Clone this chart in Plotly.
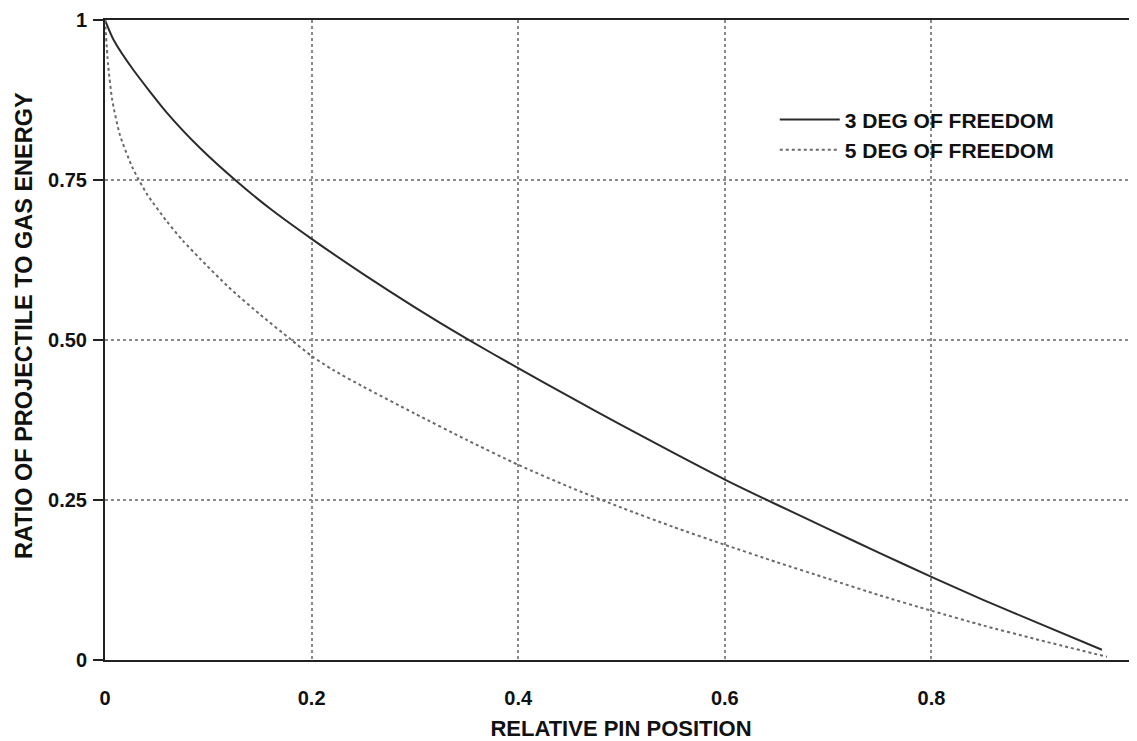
import plotly.graph_objects as go

# ---- data ----
x_3dof = [0, 0.008, 0.027, 0.06, 0.092, 0.126, 0.16, 0.2, 0.25, 0.3, 0.35, 0.4,
          0.45, 0.5, 0.55, 0.6, 0.65, 0.7, 0.75, 0.8, 0.85, 0.9, 0.965]
y_3dof = [1.0, 0.97, 0.923, 0.855, 0.8, 0.75, 0.705, 0.658, 0.603, 0.551, 0.502, 0.456,
          0.411, 0.367, 0.324, 0.282, 0.243, 0.205, 0.167, 0.13, 0.094, 0.06, 0.016]

x_5dof = [0, 0.003, 0.007, 0.0145, 0.027, 0.041, 0.06, 0.0755, 0.092, 0.12, 0.15, 0.179,
          0.2, 0.221, 0.25, 0.3, 0.35, 0.4, 0.45, 0.5, 0.55, 0.6, 0.65, 0.7, 0.75,
          0.8, 0.85, 0.9, 0.97]
y_5dof = [1.0, 0.93, 0.875, 0.82, 0.768, 0.727, 0.685, 0.655, 0.627, 0.582, 0.54, 0.502,
          0.475, 0.453, 0.427, 0.385, 0.344, 0.305, 0.27, 0.238, 0.208, 0.18, 0.153, 0.127, 0.101,
          0.077, 0.054, 0.033, 0.005]

series_names = ["3 DEG OF FREEDOM", "5 DEG OF FREEDOM"]
x_ticks = [0, 0.2, 0.4, 0.6, 0.8, 1]
x_tick_text = ["0", "0.2", "0.4", "0.6", "0.8", "1"]
y_ticks = [0, 0.25, 0.5, 0.75, 1]
y_tick_text = ["0", "0.25", "0.50", "0.75", "1"]
x_title = "RELATIVE PIN POSITION"
y_title = "RATIO OF PROJECTILE TO GAS ENERGY"

FONT = "Liberation Sans, Arial, Helvetica, sans-serif"
INK = "#111"

fig = go.Figure()
fig.add_trace(go.Scatter(x=x_3dof, y=y_3dof, mode="lines", name=series_names[0],
                         line=dict(color="#2b2b2b", width=2, shape="spline", smoothing=0.6)))
fig.add_trace(go.Scatter(x=x_5dof, y=y_5dof, mode="lines", name=series_names[1],
                         line=dict(color="#6a6a6a", width=2, dash="dot", shape="spline", smoothing=0.6)))

# page body adds an 8px offset; figure sized so the plot lands where the reference has it
fig.update_layout(
    width=1129, height=733,
    margin=dict(l=97, r=0, t=12, b=81),
    paper_bgcolor="white", plot_bgcolor="white",
    font=dict(family=FONT, color=INK, size=20),
    showlegend=True,
    legend=dict(x=0.649, y=0.876, xanchor="left", yanchor="top",
                font=dict(size=21, weight="bold", family=FONT, color=INK),
                bgcolor="rgba(0,0,0,0)", tracegroupgap=0, itemwidth=60),
    annotations=[dict(text=y_title, textangle=-90, xref="paper", yref="paper",
                      x=0, y=0.522, xanchor="center", yanchor="middle", xshift=-81,
                      showarrow=False, borderpad=0,
                      font=dict(size=23.5, weight="bold", family=FONT, color=INK))],
)

fig.update_xaxes(
    range=[0, 0.999], tickvals=x_ticks, ticktext=x_tick_text, automargin=False,
    tickfont=dict(size=20, weight="bold", family=FONT, color=INK),
    ticks="", ticklabelstandoff=19,
    showline=True, linecolor="#222", linewidth=2, mirror=True,
    showgrid=True, gridcolor="#8a8a8a", griddash="dot", gridwidth=1.5,
    zeroline=False,
    title=dict(text=x_title, font=dict(size=22, weight="bold", family=FONT, color=INK),
               standoff=17),
)
fig.update_yaxes(
    range=[0, 1], tickvals=y_ticks, ticktext=y_tick_text, automargin=False,
    tickfont=dict(size=20, weight="bold", family=FONT, color=INK),
    ticks="outside", ticklen=10, tickwidth=1.5, tickcolor="#222", ticklabelstandoff=2,
    showline=True, linecolor="#222", linewidth=2,
    showgrid=True, gridcolor="#8a8a8a", griddash="dot", gridwidth=1.5,
    zeroline=False,
)

fig.write_html("out.html")
